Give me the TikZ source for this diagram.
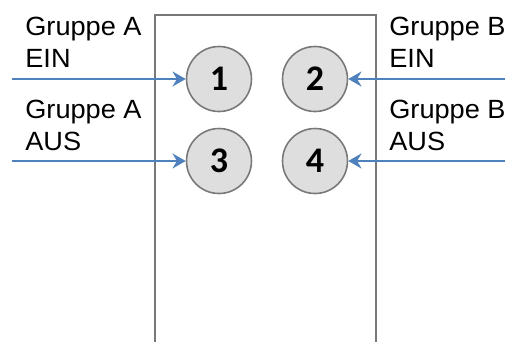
\documentclass[tikz,border=0pt]{standalone}
\usepackage{fontspec}
\setmainfont{Liberation Sans}
\newfontfamily\numfont{Carlito}
\usetikzlibrary{arrows.meta}
\definecolor{feedblue}{HTML}{4F81BD}
\definecolor{knobgray}{RGB}{222,222,222}
\definecolor{edgegray}{RGB}{120,120,120}

\begin{document}
\begin{tikzpicture}[x=0.02cm, y=-0.02cm,
    knob/.style = {circle, minimum size = 1.3cm, inner sep = 0pt, fill=knobgray, draw=edgegray, line width=0.9pt, font=\numfont\bfseries\fontsize{20.5}{22}\selectfont},
    lbl/.style = {anchor=base west, align=left, inner sep=0pt, xscale=1.03, transform shape, font=\fontsize{15}{18.2}\selectfont},
    feed/.style = {draw=feedblue, line width=1.3pt, -{Stealth[length=7.5pt, width=8.5pt, inset=2.5pt]}}]

        \useasboundingbox (0,0) rectangle (505,342);
        \draw[edgegray, line width=0.85pt] (155,342) -- (155,15) -- (376,15) -- (376,342);

        \node[knob] (K1) at (219,79) {1};
        \node[knob] (K2) at (315,79) {2};
        \node[knob] (K3) at (219,161) {3};
        \node[knob] (K4) at (315,161) {4};

        \node[lbl] (LA1) at (25,67) {Gruppe A\\EIN};
        \node[lbl] (LA2) at (25,150) {Gruppe A\\AUS};
        \node[lbl] (LB1) at (389,67) {Gruppe B\\EIN};
        \node[lbl] (LB2) at (389,150) {Gruppe B\\AUS};

        \coordinate (inA1) at (12,79);
        \coordinate (inA2) at (12,161);
        \coordinate (inB1) at (505,79);
        \coordinate (inB2) at (505,161);

        \draw[feed] (inA1) -- (K1);
        \draw[feed] (inA2) -- (K3);
        \draw[feed] (inB1) -- (K2);
        \draw[feed] (inB2) -- (K4);

    \end{tikzpicture}
\end{document}
